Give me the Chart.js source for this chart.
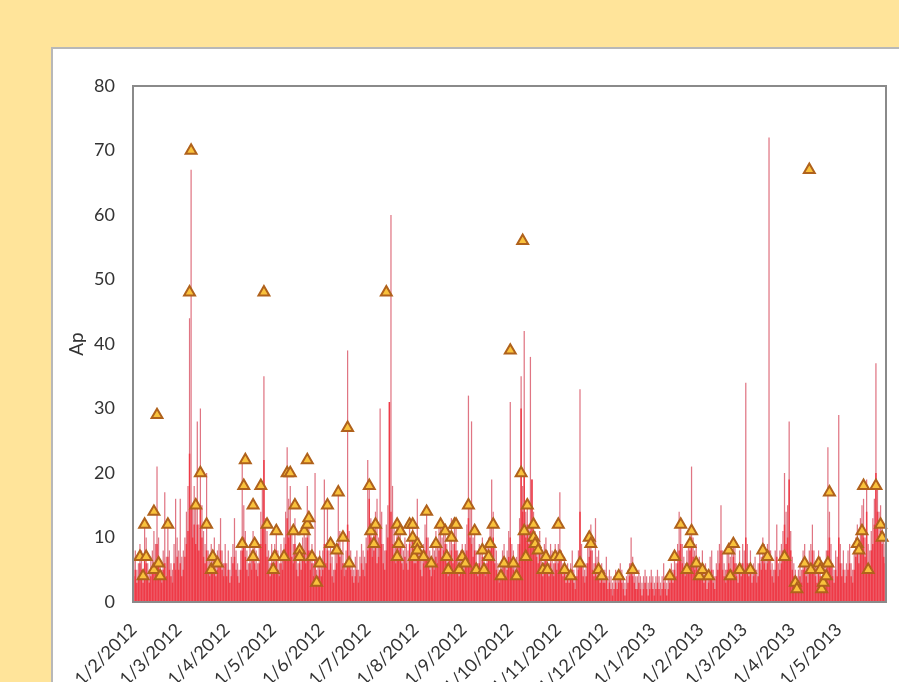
<!DOCTYPE html>
<html><head><meta charset="utf-8">
<script src="https://cdn.jsdelivr.net/npm/chart.js@4/dist/chart.umd.min.js"></script>
<style>
html,body{margin:0;padding:0;width:899px;height:682px;overflow:hidden;background:#FFE49A;}
#panel{position:absolute;left:51px;top:47px;width:900px;height:700px;background:#fff;border:2px solid #b8b8b8;box-sizing:border-box;}
#wrap{position:absolute;left:0;top:0;width:899px;height:780px;}
</style></head><body>
<div id="panel"></div>
<div id="wrap"><canvas id="c" width="899" height="780"></canvas></div>
<script>
// Month tick labels (d/m/yyyy) and number of days in each month of the record
const monthTicks = ['1/2/2012','1/3/2012','1/4/2012','1/5/2012','1/6/2012','1/7/2012','1/8/2012','1/9/2012','1/10/2012','1/11/2012','1/12/2012','1/1/2013','1/2/2013','1/3/2013','1/4/2013','1/5/2013'];
const monthDays  = [29,31,30,31,30,31,31,30,31,30,31,31,28,31,30,31];

// Daily ap (typical level), one value per day from 1/2/2012 to 31/5/2013
const apBase = [
 4,5,3,4,6,5,3,7,6,4, 3,4,5,6,5,9,6,4,3,5, 6,4,7,5,4,3,6,5,7,
 5,6,4,5,7,9,11,23,15,10, 12,9,12,8,15,10,7,6,8,5, 4,6,5,7,4,5,6,8,5,4, 6,
 4,5,3,4,6,7,5,4,3,5, 8,10,7,5,4,6,5,7,6,5, 4,6,9,12,22,9,7,5,4,6,
 5,6,8,5,4,6,5,7,9,13, 10,11,7,6,9,5,4,6,5,7, 8,6,10,8,5,6,4,7,3,4, 5,
 4,5,9,6,8,5,6,4,3,5, 6,9,7,5,6,4,5,12,7,5, 4,3,4,5,3,4,6,5,4,6,
 8,16,10,7,8,11,6,7,12,9, 6,5,8,10,31,14,9,7,6,10, 8,9,6,5,7,6,5,9,7,10, 6,
 6,8,7,5,4,6,8,10,7,5, 4,6,5,7,6,8,9,7,8,9, 6,4,7,8,6,9,8,5,4,5, 6,
 5,6,8,13,10,9,7,8,5,4, 6,5,7,5,4,6,7,8,9,10, 6,5,4,3,4,5,6,4,5,7,
 10,6,5,4,5,6,9,30,14,20, 10,12,9,11,19,10,8,7,6,8, 5,4,6,7,5,4,6,5,4,6, 5,
 6,7,5,4,5,3,4,3,4,5, 3,2,4,5,14,6,4,3,4,6, 7,8,5,4,6,4,5,3,4,3,
 3,4,2,3,2,1,2,3,2,3, 4,3,2,1,2,3,4,6,4,3, 2,2,3,2,1,2,3,2,1,2, 3,
 2,1,2,3,2,1,2,3,2,1, 2,3,4,3,5,4,6,8,9,6, 5,4,5,6,8,10,7,5,6,4, 5,
 4,5,3,4,2,3,4,5,3,2, 4,5,6,8,5,4,3,5,6,4, 5,7,6,4,3,5,4,6,
 5,10,6,4,5,3,4,5,3,4, 6,5,7,6,5,6,8,5,4,3, 5,7,4,5,6,8,12,9,10,19, 8,
 5,4,3,2,3,4,3,5,6,4, 3,5,6,8,5,4,3,5,4,2, 3,4,5,8,10,6,4,3,5,4,
 10,6,4,5,3,4,5,6,4,3, 5,7,8,6,9,12,10,7,14,6, 5,8,9,12,20,14,10,11,9,7, 6
];

// Daily maximum ap (thin spikes)
const apMax = [
 7,8,5,6,9,8,5,12,10,6, 5,7,8,11,9,21,10,6,5,8, 17,7,12,8,6,5,9,16,10,
 8,16,7,8,10,14,18,44,67,15, 18,16,28,12,30,15,11,9,20,8, 7,9,8,10,6,8,9,13,8,6, 9,
 6,8,5,7,9,13,8,6,5,8, 22,15,11,8,6,9,8,11,9,8, 6,9,14,18,35,13,11,8,6,9,
 8,9,12,8,6,9,8,10,14,24, 16,18,11,9,13,8,6,9,8,10, 12,10,18,13,8,9,6,20,5,7, 8,
 6,8,19,9,15,8,10,7,5,8, 9,17,11,8,10,6,8,39,11,8, 6,5,7,8,5,7,9,8,7,10,
 22,19,13,10,11,14,16,10,30,14, 9,8,12,15,31,60,18,12,9,13, 11,12,9,8,10,9,8,13,10,13, 9,
 9,16,10,8,7,9,12,15,10,8, 6,9,8,11,9,12,13,10,12,12, 9,7,11,13,9,13,12,8,7,8, 9,
 8,9,12,32,15,28,10,12,8,6, 9,8,10,7,6,9,10,12,19,14, 9,8,6,5,6,8,9,6,8,11,
 31,9,8,6,7,9,13,35,18,42, 14,16,12,38,19,14,11,10,9,11, 8,6,9,10,8,6,9,8,6,9, 8,
 9,17,8,6,7,5,6,5,6,8, 5,4,6,8,33,9,6,5,6,9, 11,12,8,6,13,7,8,5,6,5,
 5,7,4,5,4,3,4,5,4,5, 6,5,4,3,4,5,6,10,7,5, 4,4,5,4,3,4,5,4,3,4, 5,
 4,3,4,5,4,3,4,6,4,3, 4,5,6,5,8,6,9,14,13,9, 7,6,8,9,11,21,10,8,9,6, 7,
 6,8,5,6,4,5,7,8,5,4, 6,8,9,15,8,6,5,8,9,7, 8,10,9,6,5,8,6,9,
 8,34,9,6,8,5,6,7,5,6, 8,7,10,9,8,9,72,8,6,5, 8,12,6,8,9,11,20,14,15,28, 11,
 7,6,5,4,5,6,5,8,9,6, 5,8,9,12,8,6,5,8,7,4, 5,6,8,24,14,9,6,5,8,7,
 29,9,6,8,5,6,8,9,6,5, 8,10,12,9,13,15,16,10,19,9, 8,11,13,16,37,18,14,15,12,10, 9
];

// Triangles: day index (days since 1/2/2012) and Ap value
const triDayIndex = [4,6,7,8,13,13,15,16,17,22,
 36,37,40,43,47,50,51,54,
 70,71,72,77,77,78,82,84,86,90,91,92,97,99,101,103,104,107,107,110,112,112,113,115,118,120,
 125,127,131,132,135,138,139,
 152,153,155,156,163,170,170,171,172,178,180,180,181,
 183,183,187,189,192,195,198,201,202,203,205,207,208,210,212,
 214,216,220,221,225,226,229,230,232,237,239,
 243,245,247,250,251,252,253,254,258,258,259,261,264,266,267,272,
 274,275,278,282,288,294,295,300,302,
 313,322,
 346,349,353,357,359,360,363,365,
 367,371,384,385,387,391,
 398,406,409,420,
 427,428,433,436,437,442,443,444,445,447,448,449,
 467,468,470,471,474,479,482,483];
const triAp = [7,4,12,7,14,5,29,6,4,12,
 48,70,15,20,12,5,7,6,
 9,18,22,7,15,9,18,48,12,5,7,11,7,20,20,11,15,8,7,11,12,22,13,7,3,6,
 15,9,8,17,10,27,6,
 18,11,9,12,48,7,12,9,11,12,12,10,7,
 9,8,7,14,6,9,12,11,7,5,10,12,12,5,7,
 6,15,11,5,8,5,7,9,12,4,6,
 39,6,4,20,56,11,7,15,10,12,9,8,5,7,5,7,
 12,7,5,4,6,10,9,5,4,
 4,5,
 4,7,12,5,9,11,6,4,
 5,4,8,4,9,5,
 5,8,7,7,
 3,2,6,67,5,6,5,2,3,4,6,17,
 9,8,11,18,5,18,12,10];

const yTicks = [0,10,20,30,40,50,60,70,80];

// Build daily category labels from the month ticks
const dayLabels = [];
monthTicks.forEach((t, m) => {
  const parts = t.split('/');
  for (let d = 1; d <= monthDays[m]; d++) dayLabels.push(d + '/' + parts[1] + '/' + parts[2]);
});
const triData = triDayIndex.map((d, i) => ({x: dayLabels[d], y: triAp[i]}));

const boxPlugin = {
  id: 'box',
  afterDatasetsDraw(chart) {
    const {ctx, chartArea: a} = chart;
    ctx.save();
    ctx.strokeStyle = '#8a8a8a';
    ctx.lineWidth = 2;
    ctx.strokeRect(a.left, a.top, a.right - a.left, a.bottom - a.top);
    ctx.restore();
  }
};

const FONT = 'Lato, "Open Sans", sans-serif';
new Chart(document.getElementById('c'), {
  type: 'bar',
  data: {
    labels: dayLabels,
    datasets: [
      {type: 'line', label: 'Ap', data: triData, showLine: false, pointStyle: 'triangle',
       pointRadius: 6.3, pointBackgroundColor: '#F9C23C', pointBorderColor: '#B0621C', pointBorderWidth: 2, order: 0},
      {type: 'bar', label: 'ap', data: apBase, backgroundColor: '#EF3A47', grouped: false,
       barPercentage: 0.95, categoryPercentage: 1, order: 1},
      {type: 'bar', label: 'ap max', data: apMax, backgroundColor: 'rgba(222,110,124,0.95)', grouped: false,
       barPercentage: 0.8, categoryPercentage: 1, order: 2}
    ]
  },
  options: {
    responsive: false,
    animation: false,
    devicePixelRatio: 1,
    layout: {padding: {left: 61, top: 86, right: 13, bottom: 78}},
    plugins: {legend: {display: false}, tooltip: {enabled: false}},
    scales: {
      x: {
        type: 'category', offset: true,
        grid: {display: false, drawTicks: false},
        border: {display: false},
        ticks: {
          autoSkip: false, minRotation: 45, maxRotation: 45, padding: 17,
          color: '#333333', font: {family: FONT, size: 18},
          callback(val) { const l = this.getLabelForValue(val); return monthTicks.includes(l) ? l : null; }
        },
        afterFit(s) { s.height = 100; }
      },
      y: {
        min: 0, max: 80,
        afterBuildTicks(s) { s.ticks = yTicks.map(v => ({value: v})); },
        grid: {display: false, drawTicks: false},
        border: {display: false},
        ticks: {padding: 18, color: '#333333', font: {family: FONT, size: 18}},
        title: {display: true, text: 'Ap', color: '#333333', font: {family: FONT, size: 19}},
        afterFit(s) { s.width = 72; }
      }
    }
  },
  plugins: [boxPlugin]
});
</script>
</body></html>
